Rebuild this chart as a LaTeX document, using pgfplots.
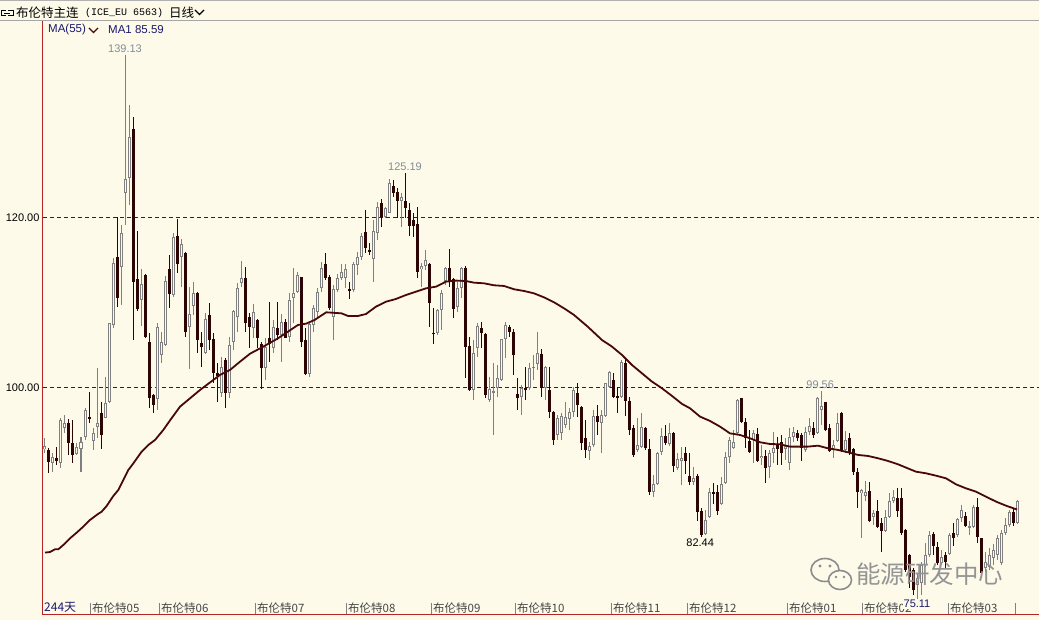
\documentclass[border=0pt]{standalone}
\usepackage{fontspec}
\setmainfont{Liberation Sans}
\newfontfamily\cjk{Noto Sans CJK SC}
\newfontfamily\mono{Liberation Mono}
\usepackage{pgfplots}
\usepackage{pgfplotstable}
\pgfplotsset{compat=1.18}

\definecolor{bg}{RGB}{253,250,233}
\definecolor{upc}{RGB}{128,128,128}
\definecolor{dnc}{RGB}{45,4,4}
\definecolor{mac}{RGB}{72,8,8}
\definecolor{axc}{RGB}{185,35,35}
\definecolor{gridc}{RGB}{128,0,0}
\definecolor{navy}{RGB}{25,25,110}
\definecolor{hilab}{RGB}{130,140,155}
\definecolor{labc}{RGB}{70,70,70}

% daily candles: index, open, high, low, close
\pgfplotstableread{
i o h l c
0 92.70 94.00 92.23 93.10
1 92.62 92.82 89.88 91.25
2 91.06 92.23 90.07 91.84
3 91.64 93.02 90.86 91.37
4 91.06 96.35 90.47 96.15
5 95.17 96.74 94.58 95.76
6 95.76 96.23 92.04 93.41
7 93.41 96.15 91.06 92.04
8 92.11 93.41 92.04 93.02
9 92.70 94.19 90.07 93.60
10 94.19 97.53 93.80 97.33
11 96.47 99.49 95.76 96.27
12 93.72 95.17 92.62 94.66
13 95.29 102.23 94.00 95.84
14 97.02 98.31 92.70 94.39
15 96.35 101.25 96.35 98.11
16 98.31 107.60 98.11 107.60
17 107.33 115.17 106.94 114.58
18 115.29 119.98 109.49 110.47
19 114.19 119.09 109.68 118.11
20 122.82 139.13 119.09 124.47
21 124.58 133.21 121.45 129.49
22 130.35 131.76 105.57 112.43
23 112.70 118.39 109.02 109.17
24 110.27 113.88 107.22 112.11
25 113.17 113.30 105.80 105.96
26 105.37 106.35 97.53 98.70
27 99.09 99.20 96.94 97.92
28 98.58 107.53 97.33 107.13
29 103.80 106.55 102.82 105.37
30 104.98 113.09 104.86 112.51
31 113.88 115.57 109.29 110.94
32 110.86 118.19 110.66 117.64
33 117.80 119.76 113.41 114.51
34 115.37 117.41 111.84 116.82
35 115.84 115.96 105.96 106.55
36 107.13 111.76 102.11 108.58
37 109.56 112.43 108.50 111.05
38 111.05 111.25 103.99 105.56
39 105.25 106.55 102.35 104.70
40 104.07 108.70 103.92 108.04
41 108.51 109.88 104.39 105.56
42 105.64 106.35 100.47 101.64
43 101.72 102.82 98.31 101.33
44 99.29 103.60 98.90 102.35
45 103.21 103.41 97.53 99.29
46 99.29 105.96 98.70 104.94
47 105.37 109.09 104.39 109.02
48 108.23 112.23 106.55 111.64
49 112.31 114.86 111.76 112.82
50 112.82 114.19 106.55 107.60
51 108.23 108.70 104.59 107.13
52 106.94 109.76 105.76 108.82
53 107.92 108.00 104.58 105.76
54 105.05 105.37 99.80 102.31
55 102.23 105.76 100.86 104.78
56 105.84 110.07 102.94 105.05
57 104.67 107.92 104.00 107.05
58 107.02 110.07 105.57 106.16
59 106.16 108.58 103.02 107.64
60 107.64 108.04 105.76 105.84
61 105.96 111.05 105.37 110.27
62 110.55 114.00 107.53 111.05
63 111.25 113.61 111.05 113.21
64 112.94 113.02 104.78 105.29
65 105.57 106.94 101.45 101.53
66 101.53 107.72 101.25 107.41
67 107.33 109.68 106.55 109.37
68 108.82 111.64 108.11 111.17
69 111.64 114.78 111.25 114.00
70 114.47 115.76 112.62 112.82
71 113.02 113.21 109.09 109.29
72 108.31 112.04 105.57 111.53
73 111.45 113.29 111.25 112.90
74 112.82 114.47 112.62 113.53
75 112.90 114.47 111.64 113.88
76 111.53 112.43 110.39 111.33
77 111.45 114.78 111.25 114.47
78 114.39 115.96 113.21 115.37
79 115.37 118.11 114.98 117.80
80 118.31 120.86 115.76 116.35
81 116.15 116.94 115.57 115.88
82 115.05 119.68 112.43 118.43
83 118.19 121.84 117.33 121.25
84 121.64 122.11 118.90 120.00
85 120.07 121.25 119.90 121.05
86 120.54 124.47 120.46 124.07
87 123.68 124.39 122.43 122.82
88 123.02 123.41 119.88 121.96
89 121.96 122.82 118.90 122.43
90 121.96 125.19 119.88 121.05
91 120.86 121.64 117.80 118.98
92 119.68 120.47 117.72 118.98
93 119.21 121.25 112.82 113.61
94 113.88 114.59 111.84 114.27
95 114.27 116.15 113.80 114.98
96 114.51 114.60 107.13 109.88
97 106.43 109.29 105.10 106.27
98 106.35 109.20 106.15 109.09
99 109.09 111.45 106.74 111.13
100 112.55 114.19 112.04 114.00
101 114.00 116.23 111.84 112.43
102 112.71 112.82 108.11 109.17
103 109.49 112.43 108.90 111.64
104 111.64 114.19 110.47 114.00
105 114.00 114.30 101.05 104.78
106 104.86 105.88 99.60 99.68
107 99.68 105.56 98.51 104.07
108 104.58 107.60 103.60 107.21
109 106.94 107.72 104.58 106.35
110 106.27 106.35 98.70 99.09
111 98.51 101.25 98.31 99.76
112 99.37 102.82 94.39 99.61
113 99.88 102.62 98.90 101.06
114 100.86 105.70 100.70 105.64
115 105.64 107.72 103.41 107.33
116 107.13 107.33 105.96 106.55
117 106.55 106.82 101.45 103.80
118 99.21 101.06 97.33 98.70
119 98.90 100.27 96.75 99.88
120 99.88 102.43 98.51 99.68
121 99.88 102.82 99.68 102.23
122 102.23 103.80 100.86 102.43
123 102.74 106.55 102.04 104.07
124 103.92 104.47 98.90 99.88
125 99.88 102.50 98.51 102.43
126 99.68 102.43 96.35 97.13
127 97.13 97.20 93.20 93.80
128 94.39 96.74 93.80 96.35
129 94.58 96.94 93.80 96.62
130 95.56 98.31 95.17 96.55
131 96.23 97.53 94.98 97.13
132 97.13 100.07 96.55 99.68
133 99.29 100.47 96.55 97.92
134 97.72 97.80 92.62 93.41
135 94.00 96.15 91.65 92.62
136 92.55 93.61 91.45 93.10
137 93.21 97.33 93.02 96.63
138 96.63 97.92 94.39 95.96
139 95.84 97.33 92.31 96.74
140 96.63 100.55 96.55 100.47
141 100.07 101.96 99.88 101.84
142 100.85 101.72 98.71 98.90
143 98.98 100.07 96.94 98.78
144 98.90 103.21 98.71 103.02
145 102.90 103.41 96.63 98.43
146 98.43 98.90 94.39 94.98
147 95.17 95.57 91.76 92.04
148 92.63 96.35 92.43 93.21
149 92.94 97.02 92.82 95.29
150 95.17 95.37 92.62 92.82
151 92.70 93.88 87.33 87.72
152 87.72 89.68 87.13 88.63
153 88.63 92.43 88.51 92.31
154 92.43 95.17 92.04 94.27
155 94.27 95.57 93.21 93.49
156 93.33 95.84 93.10 94.59
157 94.59 94.78 90.08 90.75
158 90.47 92.24 90.27 91.53
159 91.33 93.01 88.51 91.72
160 92.23 93.02 89.76 91.33
161 89.60 92.23 88.51 88.90
162 88.82 90.66 88.51 89.29
163 89.60 89.76 84.27 85.37
164 85.45 85.76 82.44 82.62
165 82.70 85.57 82.62 84.39
166 84.78 88.19 84.59 87.65
167 87.63 88.70 86.23 87.40
168 87.63 88.51 84.98 85.45
169 86.23 89.49 86.15 88.58
170 88.70 92.43 88.58 91.84
171 91.84 94.19 91.06 93.80
172 92.82 94.98 92.70 93.61
173 94.58 98.62 94.39 98.51
174 98.70 98.78 95.76 95.96
175 95.88 96.35 92.82 94.00
176 93.68 94.98 92.23 92.43
177 93.80 94.98 91.06 94.59
178 94.47 95.17 91.25 91.33
179 91.64 93.21 90.86 91.96
180 91.96 92.62 88.70 90.55
181 90.66 92.62 89.29 92.23
182 92.23 94.78 91.06 92.82
183 93.29 94.19 90.90 92.74
184 93.53 94.39 90.86 92.23
185 92.74 93.99 91.45 93.13
186 91.05 95.17 90.27 94.19
187 94.19 95.37 93.61 94.70
188 94.58 94.98 93.69 93.99
189 94.39 94.58 91.33 92.82
190 92.62 95.37 92.43 94.70
191 94.78 96.43 94.39 95.49
192 95.25 95.88 93.99 94.39
193 94.58 98.90 94.47 98.70
194 97.33 99.56 95.57 97.84
195 98.23 98.30 94.86 94.98
196 95.17 95.65 92.35 92.51
197 92.82 93.80 91.72 93.21
198 93.69 96.94 93.61 95.76
199 96.94 97.06 92.35 92.51
200 92.63 94.86 92.23 93.80
201 94.07 94.58 92.04 92.23
202 92.74 92.90 89.69 90.00
203 90.08 90.47 85.76 87.65
204 87.53 88.00 82.24 87.92
205 87.25 88.98 86.63 87.65
206 87.80 88.90 84.19 84.27
207 84.78 85.57 83.80 85.17
208 85.45 86.74 83.49 83.61
209 84.00 84.59 80.67 83.10
210 83.10 85.57 83.02 84.78
211 84.78 87.53 84.67 86.63
212 86.63 87.92 86.35 87.14
213 86.94 88.11 84.78 85.50
214 86.94 88.19 82.62 82.82
215 83.21 83.30 78.31 78.51
216 80.27 80.35 76.35 77.72
217 78.51 78.70 75.60 76.16
218 76.74 78.12 75.11 77.53
219 76.94 79.49 75.57 79.09
220 79.09 81.64 78.90 80.27
221 80.27 83.09 80.08 82.62
222 82.70 82.94 80.27 81.37
223 81.25 81.76 79.09 79.29
224 79.29 80.86 79.09 80.07
225 80.27 80.66 78.70 79.49
226 80.35 82.82 80.27 82.62
227 82.82 84.00 81.37 82.23
228 82.62 84.66 82.43 84.51
229 84.59 86.16 84.19 85.57
230 84.90 85.37 83.60 83.72
231 83.49 84.27 82.62 83.72
232 83.60 86.16 83.41 85.96
233 85.96 87.02 81.64 82.43
234 82.23 82.31 77.92 78.12
235 78.70 80.66 78.31 79.49
236 78.90 81.05 78.51 80.27
237 79.88 81.52 79.09 80.86
238 80.27 82.62 79.68 82.23
239 79.29 83.21 79.09 82.82
240 82.82 84.59 82.62 83.80
241 83.80 85.57 83.60 85.37
242 85.29 85.76 83.72 83.99
243 83.99 86.74 83.88 86.62
}\candles

% MA(55)
\pgfplotstableread{
i ma
0 80.55
1.25 80.62
2.5 80.94
3.33 80.94
4.58 81.45
6.25 82.23
7.92 82.90
9.58 83.61
11.25 84.39
12.92 84.98
14.17 85.37
15.42 86.04
17.08 87.21
18.33 87.92
19.58 89.09
20.83 90.27
22.08 91.05
24.17 92.43
25.83 93.21
27.5 93.80
29.58 94.98
31.25 96.10
33.75 97.72
38.75 99.68
43.75 101.45
46.25 102.04
48.75 103.01
51.25 103.95
54.1 104.66
58.25 105.76
63.25 107.33
65.3 107.49
67.4 107.92
70.3 108.82
74.1 108.70
75.75 108.39
78.25 108.39
80.25 108.62
82.75 109.49
85.25 110.07
87.75 110.39
90.25 110.86
92.75 111.25
95.25 111.64
97.75 111.84
100.25 112.43
102.75 112.55
105.25 112.50
107.25 112.31
109.75 112.23
112.25 112.00
114.75 111.92
117.25 111.53
119.75 111.33
122.25 111.05
124.75 110.58
127.25 110.00
129.75 109.29
132.25 108.51
135.75 107.10
139.25 105.56
141.75 104.78
144.25 103.80
146.75 102.62
149.25 101.64
151.75 100.66
154.25 99.88
156.75 98.98
159.25 98.04
161.25 97.53
163.75 96.55
166.25 96.04
168.75 95.37
171.25 94.58
173.75 94.39
176.25 94.00
178.75 93.53
181.25 93.33
183.75 93.29
186.25 93.02
188.25 93.02
190.75 93.02
193.25 93.13
195.75 92.82
198.25 92.63
200.75 92.35
203.25 92.04
205.75 91.92
208.25 91.65
210.75 91.33
213.25 90.94
215.25 90.55
217.75 90.07
220.25 89.88
222.75 89.60
225.25 89.29
227.75 88.58
230.25 88.11
232.75 87.72
235.25 87.13
237.75 86.55
240.25 86.07
243 85.62
}\maline

\begin{document}
\begin{tikzpicture}[x=1pt,y=1pt]
\fill[bg] (0,0) rectangle (1039,620);
\path[use as bounding box] (0,0) rectangle (1039,620);
\begin{axis}[
  at={(43pt,5pt)}, anchor=south west,
  width=996pt, height=595pt, scale only axis,
  xmin=-0.5, xmax=248.5,
  ymin=73.21, ymax=143.21,
  axis x line*=bottom, axis y line*=left,
  axis line style={-, draw=axc, line width=1pt},
  ytick={100,120},
  ymajorgrids,
  grid style={draw=gridc, dash pattern=on 4pt off 3pt, line width=0.8pt},
  ytick style={draw=none},
  yticklabel style={font=\fontsize{11}{13}\selectfont, text=black,
    /pgf/number format/.cd, fixed, fixed zerofill, precision=2, assume math mode=true},
  xtick={11.25,28.5,52.5,75.25,96.5,117.5,141.5,160.5,185.5,204.25,225.75,242.5},
  xticklabels={布伦特05,布伦特06,布伦特07,布伦特08,布伦特09,布伦特10,布伦特11,布伦特12,布伦特01,布伦特02,布伦特03,{}},
  xticklabel style={anchor=south west, font=\cjk\fontsize{11.5}{13}\selectfont, text=labc, inner sep=1.5pt, xshift=0.5pt},
  tick align=inside,
  major tick length=12pt,
  xtick style={draw=upc, line width=0.8pt},
  clip=true,
]
% wicks
\addplot[draw=none, forget plot, error bars/.cd, y dir=both, y explicit, error mark=none,
  error bar style={draw=upc, line width=1pt}]
  table[x=i, y expr={\thisrow{c}>=\thisrow{o} ? (\thisrow{h}+\thisrow{l})/2 : nan},
        y error expr={(\thisrow{h}-\thisrow{l})/2}] {\candles};
\addplot[draw=none, forget plot, error bars/.cd, y dir=both, y explicit, error mark=none,
  error bar style={draw=dnc, line width=1pt}]
  table[x=i, y expr={\thisrow{c}<\thisrow{o} ? (\thisrow{h}+\thisrow{l})/2 : nan},
        y error expr={(\thisrow{h}-\thisrow{l})/2}] {\candles};
% falling bodies
\addplot[draw=none, forget plot, error bars/.cd, y dir=both, y explicit, error mark=none,
  error bar style={draw=dnc, line width=3pt}]
  table[x=i, y expr={\thisrow{c}<\thisrow{o} ? (\thisrow{o}+\thisrow{c})/2 : nan},
        y error expr={max(abs(\thisrow{o}-\thisrow{c})/2,0.06)}] {\candles};
% rising bodies, hollow
\addplot[draw=none, forget plot, error bars/.cd, y dir=both, y explicit, error mark=none,
  error bar style={draw=upc, line width=3pt}]
  table[x=i, y expr={\thisrow{c}>=\thisrow{o} ? (\thisrow{o}+\thisrow{c})/2 : nan},
        y error expr={max(abs(\thisrow{o}-\thisrow{c})/2,0.06)}] {\candles};
\addplot[draw=none, forget plot, error bars/.cd, y dir=both, y explicit, error mark=none,
  error bar style={draw=bg, line width=1pt}]
  table[x=i, y expr={and(\thisrow{c}>=\thisrow{o}, abs(\thisrow{c}-\thisrow{o})>0.3) ? (\thisrow{o}+\thisrow{c})/2 : nan},
        y error expr={abs(\thisrow{c}-\thisrow{o})/2-0.118}] {\candles};
% MA(55)
\addplot[mac, line width=1.8pt, mark=none] table[x=i, y=ma] {\maline};

\node[anchor=south, text=hilab, inner sep=1.5pt, font=\fontsize{11}{13}\selectfont] at (axis cs:20,139.13) {139.13};
\node[anchor=south, text=hilab, inner sep=2pt, font=\fontsize{11}{13}\selectfont] at (axis cs:90,125.19) {125.19};
\node[anchor=south, text=hilab, inner sep=2pt, font=\fontsize{11}{13}\selectfont] at (axis cs:193.8,99.56) {99.56};
\node[anchor=north, text=black, inner sep=2pt, font=\fontsize{11}{13}\selectfont] at (axis cs:163.8,82.44) {82.44};
\node[anchor=north, text=navy, fill=bg, inner sep=1pt, font=\fontsize{11}{13}\selectfont] at (axis cs:218,75.11) {75.11};
\end{axis}

% header
\fill[gray!60] (0,618.8) rectangle (1039,620);
\draw[gray!70, line width=0.8pt] (0,600) -- (1039,600);
\draw[black, line width=0.7pt] (6,609.5) -- (1,609.5) -- (1,604.5) -- (6,604.5);
\draw[black, line width=0.7pt] (8,609.5) -- (13,609.5) -- (13,604.5) -- (8,604.5);
\draw[black, line width=0.7pt] (4,607) -- (10,607);
\node[anchor=west, inner sep=0pt] at (16,607) {\cjk\fontsize{12.5}{14}\selectfont 布伦特主连};
\node[anchor=west, inner sep=0pt] at (85,607) {\mono\fontsize{10}{12}\selectfont (ICE\_EU 6563)};
\node[anchor=west, inner sep=0pt] at (169,607) {\cjk\fontsize{12.5}{14}\selectfont 日线};
\draw[black, line width=1.2pt] (195,610) -- (199.5,605.5) -- (204,610);
\node[anchor=west, inner sep=0pt, text=navy] at (48,590) {\fontsize{11.5}{13}\selectfont MA(55)};
\draw[mac, line width=1.2pt] (89,592) -- (93.5,587.5) -- (98,592);
\node[anchor=west, inner sep=0pt, text=navy] at (108,590) {\fontsize{11.5}{13}\selectfont MA1 85.59};
\node[anchor=south west, inner sep=1pt, text=navy] at (43,6) {\cjk\fontsize{12}{14}\selectfont 244天};

% watermark
\draw[black!45, line width=1.6pt] (825,50) ellipse (14 and 11.5);
\fill[bg] (840,40) ellipse (11.5 and 9.5);
\draw[black!45, line width=1.6pt] (840,40) ellipse (11.5 and 9.5);
\fill[black!45] (820,54) circle (1.6) (830,54) circle (1.6) (836,43) circle (1.3) (844,43) circle (1.3);
\node[anchor=west, inner sep=0pt, text=black!42] at (856,46) {\cjk\fontsize{24.5}{28}\selectfont 能源研发中心};
\end{tikzpicture}
\end{document}
